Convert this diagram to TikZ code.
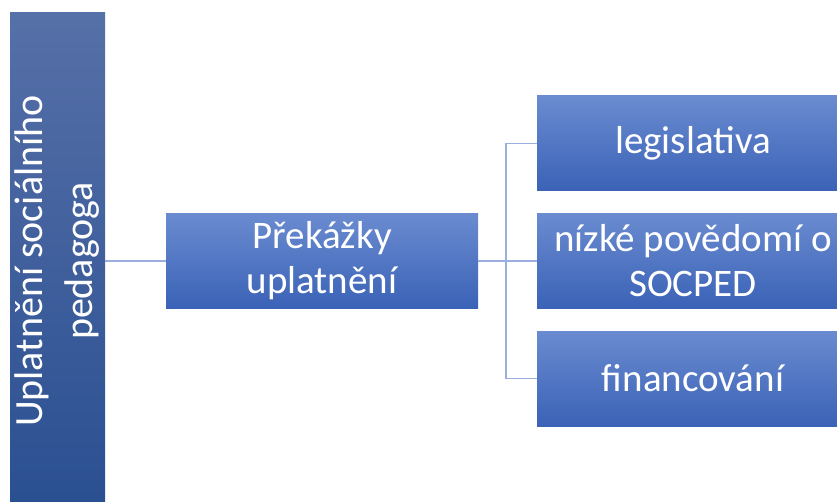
\documentclass[tikz,border=0pt]{standalone}
\usepackage{fontspec}
\setmainfont{Carlito}
\usepackage{tikz}
\usetikzlibrary{positioning,calc}
\definecolor{boxtop}{HTML}{6A8BD0}
\definecolor{boxmid}{HTML}{4A72C6}
\definecolor{boxbot}{HTML}{3A62B6}
\definecolor{roottop}{HTML}{5670A8}
\definecolor{rootbot}{HTML}{2A4F91}
\definecolor{linkblue}{HTML}{9AAEE0}

\begin{document}
\begin{tikzpicture}[x=1pt, y=-1pt,
    block/.style={rectangle, inner sep=0pt, text=white, align=center,
      top color=boxtop, middle color=boxmid, bottom color=boxbot,
      minimum width=312pt, minimum height=95pt,
      font=\fontsize{39}{45}\selectfont},
    root/.style={block, top color=roottop, bottom color=rootbot, middle color=roottop!50!rootbot,
      minimum width=95pt, minimum height=496pt},
    rootlabel/.style={text=white, align=center, inner sep=0pt, rotate=90,
      font=\fontsize{40}{50}\selectfont},
    link/.style={linkblue, line width=1.3pt}]
  \clip (0,0) rectangle (837,502);
  \fill[white] (0,0) rectangle (837,502);

  % root box, text turned upwards
  \node[root] (uplatneni) at (57.5,261) {};
  \node[rootlabel] (uplatnenitext) at (uplatneni.center) {Uplatnění sociálního\\pedagoga};

  % middle level
  \node[block] (prekazky) at (322,261) {Překážky\\uplatnění};

  % right level (three items, cut at the right edge)
  \node[block] (legislativa) at (693,143.5) {legislativa};
  \node[block] (povedomi) at (693,261) {nízké povědomí o\\SOCPED};
  \node[block] (financovani) at (693,378.5) {financování};

  % connectors
  \coordinate (split) at (506,261);
  \draw[link] (uplatneni.east) -- (prekazky.west);
  \draw[link] (prekazky.east) -- (split);
  \draw[link] (split) |- (legislativa.west);
  \draw[link] (split) -- (povedomi.west);
  \draw[link] (split) |- (financovani.west);
\end{tikzpicture}
\end{document}
